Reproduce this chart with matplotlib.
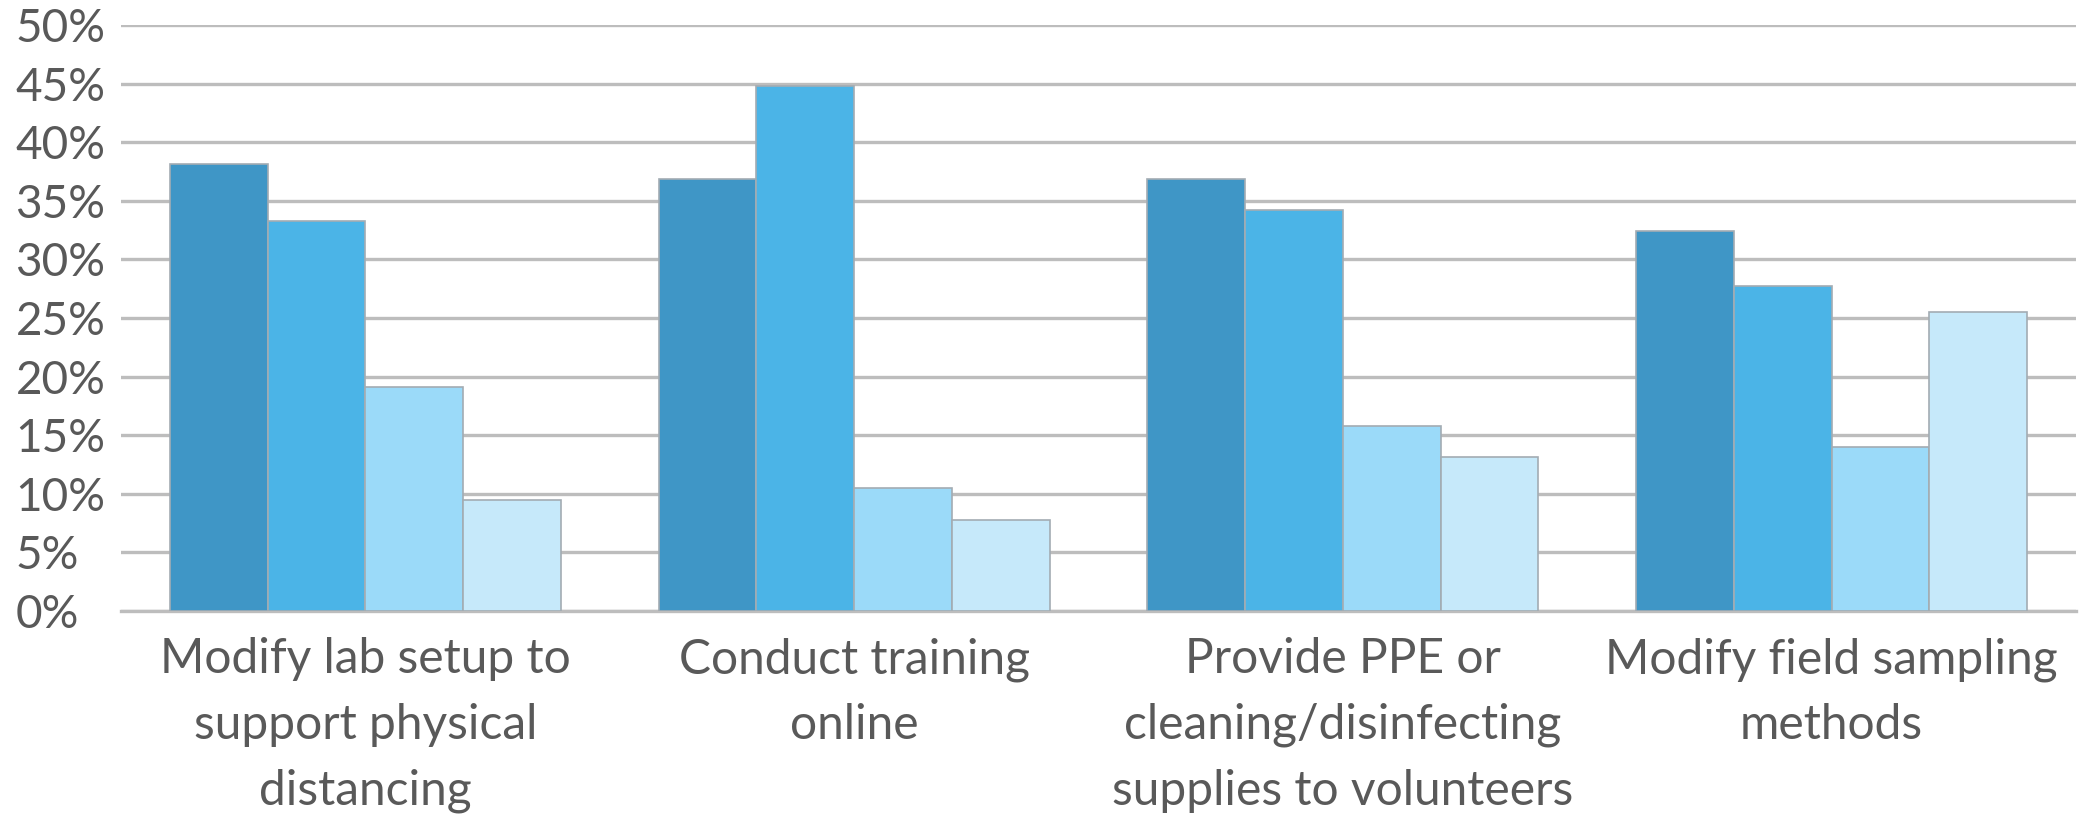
import numpy as np
import matplotlib
matplotlib.use('Agg')
import matplotlib.pyplot as plt
from matplotlib.ticker import FuncFormatter

plt.rcParams['font.family'] = ['Lato', 'DejaVu Sans']

# Data (percent)
categories = ['Modify lab setup to\nsupport physical\ndistancing',
              'Conduct training\nonline',
              'Provide PPE or\ncleaning/disinfecting\nsupplies to volunteers',
              'Modify field sampling\nmethods']
series_1 = [38.1, 36.9, 36.9, 32.4]
series_2 = [33.3, 44.8, 34.2, 27.7]
series_3 = [19.1, 10.5, 15.8, 14.0]
series_4 = [9.5, 7.8, 13.1, 25.5]
y_ticks = [0, 5, 10, 15, 20, 25, 30, 35, 40, 45, 50]

colors = ['#3f96c6', '#4bb4e7', '#9bdaf9', '#c6e9fa']
text_color = '#595959'
grid_color = '#bdbdbd'

fig = plt.figure(figsize=(20.82, 8.18), dpi=100)
ax = fig.add_axes([121 / 2082, (818 - 611) / 818, (2076 - 121) / 2082, (611 - 25) / 818])

x = np.arange(len(categories))
width = 0.2
for j, vals in enumerate([series_1, series_2, series_3, series_4]):
    ax.bar(x + (j - 1.5) * width, vals, width, color=colors[j],
           edgecolor='#a3acb3', linewidth=1.2, zorder=3)

ax.set_xlim(-0.5, len(categories) - 0.5)
ax.set_ylim(0, 50)
ax.set_yticks(y_ticks)
ax.yaxis.set_major_formatter(FuncFormatter(lambda v, p: f'{v:.0f}%'))
ax.yaxis.grid(True, color=grid_color, linewidth=2.4, zorder=0)
ax.set_axisbelow(True)

for s in ['top', 'right', 'left']:
    ax.spines[s].set_visible(False)
ax.spines['bottom'].set_color(grid_color)
ax.spines['bottom'].set_linewidth(2.4)

ax.set_xticks(x)
ax.set_xticklabels(categories, fontsize=34.5, color=text_color, linespacing=1.6)
ax.tick_params(axis='x', length=0, pad=19)
ax.tick_params(axis='y', length=0, pad=76, labelsize=33, labelcolor=text_color)
for lbl in ax.get_yticklabels():
    lbl.set_horizontalalignment('left')

fig.savefig('out.png', dpi=100)
